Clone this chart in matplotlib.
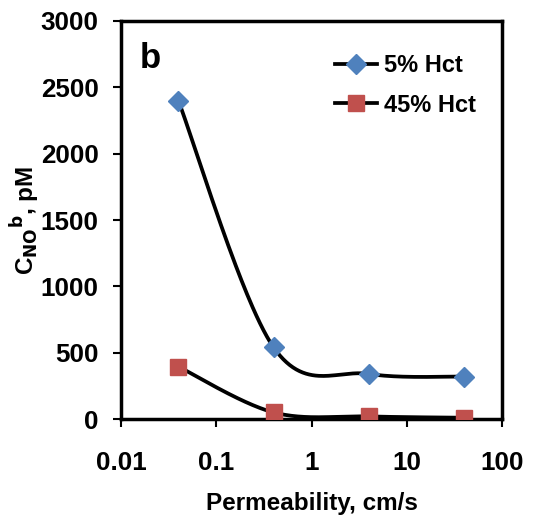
import numpy as np
import matplotlib
matplotlib.use("Agg")
import matplotlib.pyplot as plt

permeability = [0.04, 0.4, 4, 40]
hct5 = [2400, 540, 340, 320]
hct45 = [395, 50, 20, 10]
labels = ["5% Hct", "45% Hct"]
colors = ["#4F81BD", "#C0504D"]
markers = ["D", "s"]

plt.rcParams['font.family'] = ['Liberation Sans', 'DejaVu Sans']
plt.rcParams['font.weight'] = 'bold'


def excel_smooth(xs, ys, n=60):
    u = np.log10(np.asarray(xs, float))
    v = np.asarray(ys, float)
    P = np.column_stack([u, v])
    out = []
    m = len(P)
    for i in range(m - 1):
        p0 = P[i - 1] if i > 0 else P[i]
        p1 = P[i]
        p2 = P[i + 1]
        p3 = P[i + 2] if i + 2 < m else P[i + 1]
        c1 = p1 + (p2 - p0) / 6.0
        c2 = p2 - (p3 - p1) / 6.0
        t = np.linspace(0, 1, n)[:, None]
        seg = ((1 - t) ** 3) * p1 + 3 * ((1 - t) ** 2) * t * c1 + 3 * (1 - t) * t ** 2 * c2 + t ** 3 * p2
        out.append(seg if i == 0 else seg[1:])
    S = np.vstack(out)
    return 10 ** S[:, 0], S[:, 1]


fig = plt.figure(figsize=(5.56, 5.18), dpi=100)
ax = fig.add_axes([0.2176, 0.191, 0.6854, 0.7685])

for ys, lab, c, mk, ms in zip([hct5, hct45], labels, colors, markers, [10, 11]):
    sx, sy = excel_smooth(permeability, ys)
    ax.plot(sx, sy, color='black', lw=2.7, zorder=2)
    ax.plot(permeability, ys, linestyle='none', marker=mk, ms=ms, color=c, zorder=3)
    ax.plot([], [], color='black', lw=2.7, marker=mk, ms=ms, mfc=c, mec=c, label=lab)

ax.set_xscale('log')
ax.set_xlim(0.01, 100)
ax.set_ylim(0, 3000)
ax.set_xticks([0.01, 0.1, 1, 10, 100])
ax.set_xticklabels(["0.01", "0.1", "1", "10", "100"])
ax.set_yticks(range(0, 3001, 500))
ax.minorticks_off()
ax.tick_params(axis='both', labelsize=18.7, width=1.5, length=6, direction='out')
ax.tick_params(axis='x', pad=17)
ax.tick_params(axis='y', pad=10)
for s in ax.spines.values():
    s.set_linewidth(2.5)

ax.set_xlabel("Permeability, cm/s", fontsize=17.5, fontweight='bold', labelpad=12)
ax.set_ylabel(r"C$_{\mathbf{NO}}$$^{\mathbf{b}}$, pM", fontsize=17.5, fontweight='bold', labelpad=-1)

ax.text(0.05, 0.905, "b", transform=ax.transAxes, fontsize=25, fontweight='bold', va='center')

leg = ax.legend(loc='upper left', bbox_to_anchor=(0.505, 0.97), frameon=False,
                fontsize=17, handlelength=1.8, handletextpad=0.3, labelspacing=0.7)

fig.savefig("out.png", dpi=100)
